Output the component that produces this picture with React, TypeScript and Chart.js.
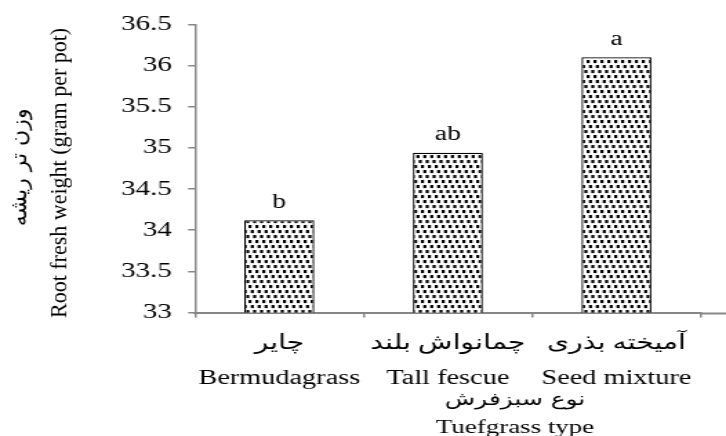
import React, { useEffect, useRef } from "react";
import { Chart, registerables } from "chart.js";

Chart.register(...registerables);

// Turfgrass types (Persian / English label lines)
const categoriesFa = ["چایر", "چمانواش بلند", "آمیخته بذری"];
const categoriesEn = ["Bermudagrass", "Tall fescue", "Seed mixture"];
// Mean root fresh weight, gram per pot
const rootFreshWeight = [34.12, 34.94, 36.1];
// Mean-separation letters written above the bars
const significanceLetters = ["b", "ab", "a"];
// Axis titles (Persian line first, English line second)
const yTitleLines = ["وزن تر ریشه", "Root fresh weight (gram per pot)"];
const xTitleLines = ["نوع سبزفرش", "Tuefgrass type"];
// Value axis range
const yMin = 33;
const yMax = 36.5;
const yStep = 0.5;

// The drawing surface is rendered narrow and widened by CSS,
// giving the broad horizontal lettering of the figure.
const CSS_W = 726;
const CSS_H = 436;
const STRETCH = 1.38;
const CANVAS_W = Math.round(CSS_W / STRETCH);
const CANVAS_H = 436;
const SX = CSS_W / CANVAS_W;

const AXIS_GREY = "#868686";
const SERIF = "'Liberation Serif', 'Times New Roman', 'DejaVu Sans', serif";
const ARABIC = "'DejaVu Sans', 'Liberation Serif', sans-serif";

function makeDotPattern(ctx: CanvasRenderingContext2D): CanvasPattern | string {
  const tile = document.createElement("canvas");
  tile.width = 5;
  tile.height = 15;
  const t = tile.getContext("2d");
  if (!t) return "#888";
  t.fillStyle = "#ffffff";
  t.fillRect(0, 0, 5, 15);
  t.fillStyle = "#000000";
  // three rows of small squares, each row shifted a little to the right
  const rows = [
    [0, 0],
    [1.7, 5],
    [3.4, 10],
  ];
  rows.forEach(([x, y]) => {
    t.fillRect(x, y, 2.2, 3.1);
    t.fillRect(x - 5, y, 2.2, 3.1);
  });
  return ctx.createPattern(tile, "repeat") || "#888";
}

const barLetters = {
  id: "barLetters",
  afterDatasetsDraw(chart: any) {
    const { ctx } = chart;
    const meta = chart.getDatasetMeta(0);
    ctx.save();
    ctx.fillStyle = "#000";
    ctx.font = `20px ${SERIF}`;
    ctx.textAlign = "center";
    ctx.textBaseline = "alphabetic";
    meta.data.forEach((bar: any, i: number) => {
      ctx.fillText(significanceLetters[i], bar.x, bar.y - 12.5);
    });
    ctx.restore();
  },
};

const axisDecor = {
  id: "axisDecor",
  afterDraw(chart: any) {
    const { ctx, chartArea } = chart;
    const xScale = chart.scales.x;
    ctx.save();
    // the category axis line runs on to the right edge
    ctx.strokeStyle = AXIS_GREY;
    ctx.lineWidth = 2;
    ctx.beginPath();
    ctx.moveTo(chartArea.right, xScale.top + 1);
    ctx.lineTo(chart.width, xScale.top + 1);
    ctx.stroke();

    // two-line category axis title
    ctx.fillStyle = "#000";
    ctx.textAlign = "center";
    ctx.textBaseline = "middle";
    const cx = 515 / SX;
    ctx.font = `18px ${ARABIC}`;
    ctx.fillText(xTitleLines[0], cx, chartArea.bottom + 87.5);
    ctx.font = `19.5px ${SERIF}`;
    ctx.fillText(xTitleLines[1], cx, chartArea.bottom + 115.5);
    ctx.restore();

    // value axis title, drawn upright-scaled so the rotated lines keep
    // their natural proportions on the widened surface
    const cy = (chartArea.top + chartArea.bottom) / 2;
    ctx.save();
    ctx.scale(1 / SX, 1);
    ctx.fillStyle = "#000";
    ctx.textAlign = "center";
    ctx.textBaseline = "middle";
    ctx.save();
    ctx.translate(21, cy - 1);
    ctx.rotate(-Math.PI / 2);
    ctx.font = `22px ${ARABIC}`;
    ctx.fillText(yTitleLines[0], 0, 0);
    ctx.restore();
    ctx.save();
    ctx.translate(61, cy + 4.5);
    ctx.rotate(-Math.PI / 2);
    ctx.font = `22px ${SERIF}`;
    ctx.fillText(yTitleLines[1], 0, 0);
    ctx.restore();
    ctx.restore();
  },
};

export default function App() {
  const canvasRef = useRef<HTMLCanvasElement | null>(null);

  useEffect(() => {
    const canvas = canvasRef.current;
    if (!canvas) return;
    const ctx = canvas.getContext("2d");
    if (!ctx) return;
    const pattern = makeDotPattern(ctx);

    const chart = new Chart(canvas, {
      type: "bar",
      data: {
        labels: categoriesFa.map((fa, i) => [fa, categoriesEn[i]]),
        datasets: [
          {
            data: rootFreshWeight,
            backgroundColor: pattern as any,
            borderColor: "#000000",
            borderWidth: 1.3,
            borderSkipped: "bottom",
            barPercentage: 0.415,
            categoryPercentage: 1,
          },
        ],
      },
      options: {
        responsive: false,
        maintainAspectRatio: false,
        devicePixelRatio: 1,
        animation: false,
        layout: {
          padding: { top: 20, right: CANVAS_W - 700.7 / SX, bottom: 0, left: 0 },
        },
        plugins: {
          legend: { display: false },
          tooltip: { enabled: false },
        },
        scales: {
          x: {
            offset: true,
            grid: {
              offset: true,
              drawOnChartArea: false,
              drawTicks: true,
              tickLength: 5,
              color: AXIS_GREY,
              lineWidth: 1.5,
            },
            border: { display: true, color: AXIS_GREY, width: 2 },
            ticks: {
              color: "#000",
              padding: 8,
              maxRotation: 0,
              autoSkip: false,
              font: { family: SERIF, size: 20.5, lineHeight: 1.72 },
            },
            afterFit: (scale: any) => {
              scale.height = 123.5;
            },
          },
          y: {
            min: yMin,
            max: yMax,
            ticks: {
              stepSize: yStep,
              color: "#000",
              padding: 11.7,
              font: { family: SERIF, size: 21 },
              callback: (v: any) => String(Number(Number(v).toFixed(1))),
            },
            grid: {
              drawOnChartArea: false,
              drawTicks: true,
              tickLength: 5,
              color: AXIS_GREY,
              lineWidth: 1.5,
            },
            border: { display: true, color: AXIS_GREY, width: 1.5 },
            title: { display: false },
            afterFit: (scale: any) => {
              scale.width = 195 / SX;
            },
          },
        },
      },
      plugins: [barLetters, axisDecor],
    });

    return () => {
      chart.destroy();
    };
  }, []);

  return (
    <div
      style={{
        position: "fixed",
        left: 0,
        top: 0,
        width: CSS_W,
        height: CSS_H,
        background: "#ffffff",
        overflow: "hidden",
      }}
    >
      <canvas
        ref={canvasRef}
        width={CANVAS_W}
        height={CANVAS_H}
        style={{ width: `${CSS_W}px`, height: `${CSS_H}px`, display: "block" }}
      />
    </div>
  );
}
